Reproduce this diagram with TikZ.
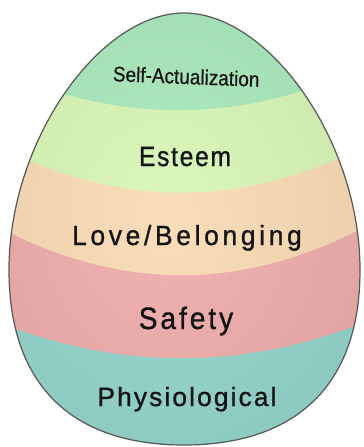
\documentclass[tikz,border=0pt]{standalone}
\usepackage{fontspec}
\setmainfont{Liberation Sans}

\definecolor{selfgreen}{HTML}{A8EABB}
\definecolor{esteemgreen}{HTML}{D8F7B4}
\definecolor{lovepeach}{HTML}{FADAB2}
\definecolor{safetypink}{HTML}{F0AAAA}
\definecolor{physioteal}{HTML}{90D4CA}

\begin{document}
\begin{tikzpicture}[x=0.02cm, y=-0.02cm,
    band label/.style={text=black!92, inner sep=0pt, anchor=base}]
    \useasboundingbox (0,0) rectangle (363,447);

    % ==========================================
    % Egg body with its coloured bands
    % ==========================================
    \begin{scope}
        % Egg shape
        \clip (184,13) .. controls (100,13) and (9,140) .. (9,270)
            .. controls (9,390) and (77,445) .. (184,445)
            .. controls (291,445) and (360,390) .. (360,270)
            .. controls (360,140) and (268,13) .. (184,13) -- cycle;

        % Top band
        \fill[selfgreen] (0,0) rectangle (363,447);

        % Lower bands, each one filled below its curved edge
        \foreach \yl/\c/\yr/\col in {71/124/67/esteemgreen, 147/208/147/lovepeach,
                                      228/291/228/safetypink, 323/370/323/physioteal}
            \fill[\col] (0,\yl) .. controls (121,\c) and (242,\c) .. (363,\yr)
                -- (363,447) -- (0,447) -- cycle;

        % Round look
        \shade[inner color=white, outer color=black, opacity=0.1]
            (165,220) ellipse (370 and 440);
    \end{scope}

    % Outline
    \draw[black!65, line width=0.7pt] (184,13) .. controls (100,13) and (9,140) .. (9,270)
        .. controls (9,390) and (77,445) .. (184,445)
        .. controls (291,445) and (360,390) .. (360,270)
        .. controls (360,140) and (268,13) .. (184,13) -- cycle;

    % ==========================================
    % Band labels
    % ==========================================
    \node[band label, font=\fontsize{12}{12}\selectfont\addfontfeature{FakeBold=0.6}, xscale=0.9, rotate=-2]
        (selfact) at (186,84) {Self-Actualization};
    \node[band label, font=\fontsize{14}{14}\selectfont\addfontfeature{LetterSpace=7,FakeBold=1}, yscale=1.13]
        (esteem) at (185,166) {Esteem};
    \node[band label, font=\fontsize{15}{15}\selectfont\addfontfeature{LetterSpace=14,FakeBold=1}, yscale=1.05]
        (love) at (187,245) {Love/Belonging};
    \node[band label, font=\fontsize{16}{16}\selectfont\addfontfeature{LetterSpace=10.5,FakeBold=1}, yscale=1.1]
        (safety) at (186,329) {Safety};
    \node[band label, font=\fontsize{15}{15}\selectfont\addfontfeature{LetterSpace=8,FakeBold=1}]
        (physio) at (187,406) {Physiological};
\end{tikzpicture}
\end{document}
